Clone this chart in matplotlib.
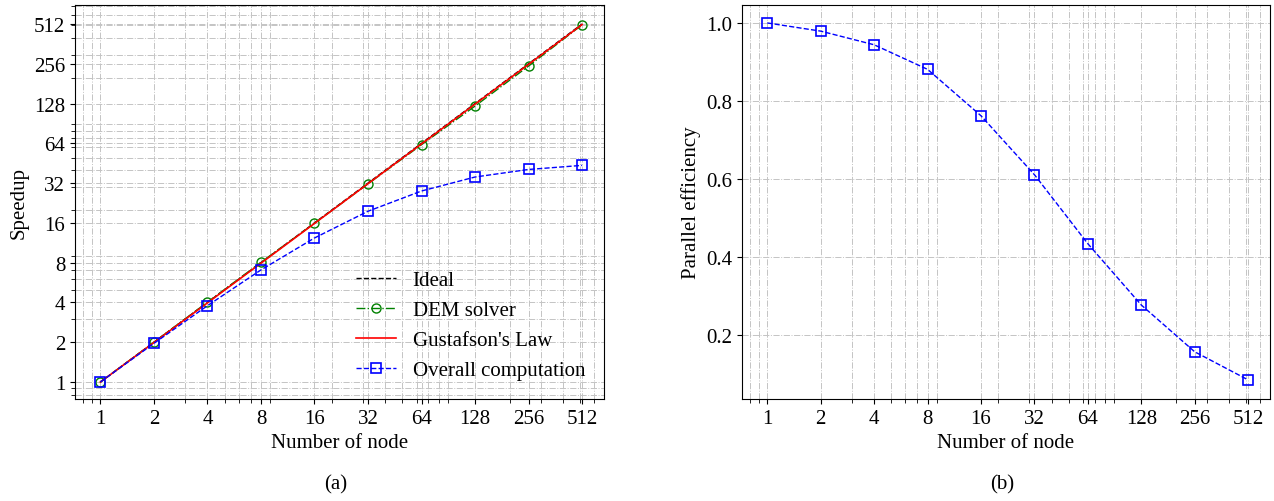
import numpy as np
import matplotlib
matplotlib.use("Agg")
import matplotlib.pyplot as plt
from matplotlib.ticker import FixedLocator, LogLocator, NullFormatter

plt.rcParams['font.family'] = ['Liberation Serif', 'DejaVu Serif']
plt.rcParams['mathtext.fontset'] = 'stix'

nodes = [1, 2, 4, 8, 16, 32, 64, 128, 256, 512]
ideal = [1, 2, 4, 8, 16, 32, 64, 128, 256, 512]
dem_solver = [1, 2.0, 4.02, 8.05, 15.9, 31.6, 62.5, 122.5, 246, 505]
gustafson = [1, 1.99, 3.97, 7.93, 15.85, 31.69, 63.37, 126.7, 253.4, 506.9]
overall = [1, 1.96, 3.78, 7.05, 12.3, 19.6, 27.9, 35.6, 40.6, 43.6]
efficiency = [1.0, 0.979, 0.944, 0.881, 0.762, 0.611, 0.434, 0.277, 0.157, 0.085]

tick_labels = [str(n) for n in nodes]
fs = 15

fig = plt.figure(figsize=(12.74, 5.02), dpi=100)
ax1 = fig.add_axes([75/1274, 1-400/502, (604-75)/1274, 394/502])
ax2 = fig.add_axes([742/1274, 1-400/502, (1270-742)/1274, 394/502])

grid_kw = dict(color='#c4c4c4', linestyle='-.', linewidth=0.7)


def setup_x(ax):
    ax.set_xscale('log')
    ax.set_xlim(0.72, 680)
    ax.xaxis.set_major_locator(FixedLocator(nodes))
    ax.set_xticks(nodes)
    ax.set_xticklabels(tick_labels)
    ax.xaxis.set_minor_locator(LogLocator(base=10, subs=np.arange(2, 10)))
    ax.xaxis.set_minor_formatter(NullFormatter())
    ax.set_xlabel("Number of node", fontsize=fs)
    ax.tick_params(which='both', direction='out', labelsize=fs)
    ax.tick_params(which='minor', length=3)
    ax.grid(True, which='major', **grid_kw)
    ax.grid(True, which='minor', axis='x', **grid_kw)


# (a) speedup
ax1.plot(nodes, ideal, 'k--', lw=1, label='Ideal')
ax1.plot(nodes, dem_solver, color='green', ls='-.', lw=1, marker='o',
         mfc='none', ms=6.5, label='DEM solver')
ax1.plot(nodes, gustafson, 'r-', lw=1.2, label="Gustafson's Law")
ax1.plot(nodes, overall, color='blue', ls='--', lw=1, marker='s',
         mfc='none', ms=6.5, mew=1.2, label='Overall computation')
setup_x(ax1)
ax1.set_yscale('log')
ax1.set_ylim(0.744, 713)
ax1.yaxis.set_major_locator(FixedLocator(ideal))
ax1.set_yticks(ideal)
ax1.set_yticklabels(tick_labels)
ax1.yaxis.set_minor_locator(LogLocator(base=10, subs=np.arange(2, 10)))
ax1.yaxis.set_minor_formatter(NullFormatter())
ax1.grid(True, which='minor', axis='y', **grid_kw)
ax1.set_ylabel("Speedup", fontsize=fs)
ax1.legend(loc='lower right', frameon=False, fontsize=fs, handlelength=1.9,
           bbox_to_anchor=(1.0, 0.0))

# (b) parallel efficiency
ax2.plot(nodes, efficiency, color='blue', ls='--', lw=1, marker='s',
         mfc='none', ms=6.5, mew=1.2)
setup_x(ax2)
ax2.set_ylim(0.036, 1.046)
ax2.set_yticks([0.2, 0.4, 0.6, 0.8, 1.0])
ax2.set_ylabel("Parallel efficiency", fontsize=fs)

fig.text(336/1274, 1-485/502, "(a)", fontsize=fs, ha='center', va='center')
fig.text(1002/1274, 1-485/502, "(b)", fontsize=fs, ha='center', va='center')

fig.savefig("out.png", dpi=100)
